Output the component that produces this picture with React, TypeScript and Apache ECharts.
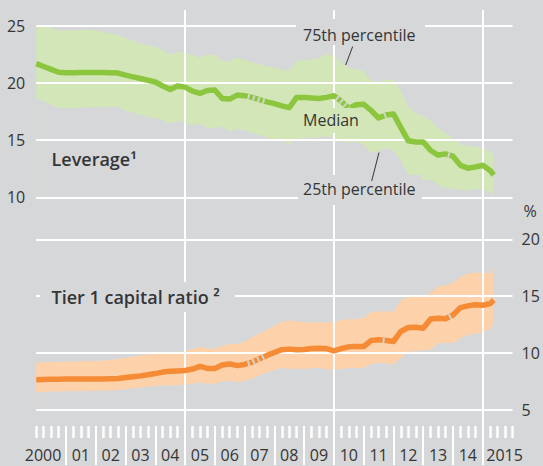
import React, { useEffect, useRef } from 'react';
import * as echarts from 'echarts';

// ---- data (quarterly observations, last one is the latest reading) ----
const levMedian = [21.7, 21.45, 21.2, 20.95, 20.9, 20.9, 20.92, 20.93, 20.93, 20.92, 20.9, 20.88, 20.7, 20.55, 20.4, 20.25, 20.1, 19.75, 19.45, 19.75, 19.65, 19.3, 19.1, 19.35, 19.4, 18.65, 18.6, 18.95, 18.9, 18.75, 18.55, 18.35, 18.2, 18.0, 17.85, 18.75, 18.75, 18.7, 18.65, 18.75, 18.9, 18.4, 17.8, 18.1, 18.15, 17.6, 16.95, 17.2, 17.3, 16.1, 14.95, 14.85, 14.85, 14.1, 13.7, 13.8, 13.6, 12.8, 12.55, 12.65, 12.8, 12.35, 11.95];
const levP75 = [25.4, 25.1, 24.85, 24.6, 24.6, 24.62, 24.65, 24.68, 24.6, 24.45, 24.35, 24.2, 23.95, 23.7, 23.5, 23.3, 23.2, 22.85, 22.5, 22.75, 22.7, 22.45, 22.2, 22.5, 22.45, 21.95, 21.9, 22.25, 22.05, 21.85, 21.65, 21.5, 21.35, 21.2, 21.05, 21.95, 22.0, 22.05, 22.2, 22.55, 22.4, 21.8, 21.35, 21.2, 21.1, 20.2, 20.1, 20.3, 20.3, 19.3, 17.9, 17.4, 17.1, 16.7, 16.1, 15.6, 15.2, 14.6, 14.5, 14.4, 14.3, 14.0, 13.7];
const levP25 = [18.65, 18.4, 18.1, 17.85, 17.8, 17.82, 17.85, 17.88, 17.9, 17.9, 17.9, 17.9, 17.6, 17.4, 17.2, 17.05, 16.95, 16.75, 16.45, 16.7, 16.5, 16.3, 16.45, 16.1, 16.05, 16.2, 15.75, 16.0, 15.85, 15.65, 15.45, 15.25, 15.05, 14.9, 14.7, 15.1, 15.2, 15.2, 15.25, 15.35, 15.2, 14.9, 14.8, 14.85, 14.6, 13.9, 14.05, 14.3, 14.1, 13.2, 12.0, 11.6, 11.5, 11.55, 11.1, 10.8, 10.75, 10.65, 10.6, 10.7, 10.75, 10.4, 10.2];

const t1Median = [7.66, 7.68, 7.7, 7.71, 7.72, 7.72, 7.72, 7.72, 7.72, 7.72, 7.74, 7.76, 7.85, 7.93, 8.0, 8.1, 8.2, 8.33, 8.4, 8.43, 8.47, 8.6, 8.83, 8.65, 8.65, 8.95, 9.05, 8.9, 9.0, 9.2, 9.5, 9.8, 10.05, 10.3, 10.35, 10.3, 10.32, 10.4, 10.43, 10.4, 10.2, 10.4, 10.55, 10.57, 10.58, 11.1, 11.17, 11.1, 11.02, 11.9, 12.25, 12.28, 12.19, 13.0, 13.07, 13.02, 13.35, 14.0, 14.15, 14.24, 14.2, 14.35, 14.67];
const t1P75 = [9.18, 9.2, 9.22, 9.24, 9.25, 9.27, 9.28, 9.3, 9.32, 9.33, 9.4, 9.48, 9.58, 9.68, 9.78, 9.88, 9.95, 10.02, 10.08, 10.12, 10.14, 10.35, 10.53, 10.4, 10.38, 10.65, 10.8, 10.8, 11.0, 11.4, 11.75, 12.05, 12.4, 12.75, 12.86, 12.8, 12.68, 12.7, 12.7, 12.68, 12.68, 12.9, 12.95, 13.0, 13.1, 13.6, 13.65, 13.65, 13.65, 14.6, 14.95, 15.0, 15.05, 15.3, 15.88, 15.95, 16.15, 16.7, 17.0, 17.05, 17.05, 17.0, 17.54];
const t1P25 = [6.58, 6.6, 6.62, 6.63, 6.65, 6.66, 6.67, 6.68, 6.7, 6.71, 6.72, 6.75, 6.82, 6.9, 6.98, 7.05, 7.1, 7.15, 7.18, 7.2, 7.22, 7.32, 7.42, 7.32, 7.3, 7.5, 7.6, 7.45, 7.55, 7.75, 8.05, 8.3, 8.5, 8.68, 8.65, 8.6, 8.62, 8.66, 8.68, 8.58, 8.54, 8.6, 8.68, 8.68, 8.68, 9.05, 9.12, 9.12, 8.97, 9.6, 10.15, 10.2, 10.25, 10.3, 10.88, 10.88, 10.88, 11.3, 11.6, 11.7, 11.85, 12.1, 12.77];

const firstQuarter = 2000;
const lastObs = 2015.37;
const dates = levMedian.map((_, i) => Math.min(firstQuarter + i * 0.25, lastObs));

const yearLabels = ['2000', '01', '02', '03', '04', '05', '06', '07', '08', '09', '10', '11', '12', '13', '14', '2015'];
const highlightYears = [2005, 2010, 2015];

// series breaks: dashed stretches and single break marks
const levBreaks = [[2007.0, 2007.75], [2010.0, 2010.5]];
const levMarks = [2011.72, 2013.86];
const t1Breaks = [[2007.0, 2007.75]];
const t1Marks = [2011.67, 2013.9];

const leverageAxis = { min: 10, max: 25, interval: 5 };
const tier1Axis = { min: 5, max: 20, interval: 5 };

// ---- styles ----
const FONT = "'Open Sans', 'Noto Sans', sans-serif";
const BG = '#d6d7d9';
const TXT = '#353535';
const GREEN = '#8cc63f';
const GREEN_BAND = '#d3e6b8';
const ORANGE = '#f58b34';
const ORANGE_BAND = '#fdd1aa';
const BREAK_GREY = '#d2d4d0';

const X0 = 36.2;
const XW = 476.3;

function pairs(vals: number[]) {
  return dates.map((t, i) => [t, vals[i]]);
}

function bandSeries(g: number, lower: number[], upper: number[], color: string) {
  return [
    {
      type: 'line', xAxisIndex: g, yAxisIndex: g, data: pairs(upper), symbol: 'none', silent: true,
      lineStyle: { width: 0, opacity: 0 }, areaStyle: { color, opacity: 1, origin: 'start' }, z: 1,
    },
    {
      type: 'line', xAxisIndex: g, yAxisIndex: g, data: pairs(lower), symbol: 'none', silent: true,
      lineStyle: { width: 0, opacity: 0 }, areaStyle: { color: BG, opacity: 1, origin: 'start' }, z: 1.5,
    },
  ];
}

function medianSeries(g: number, vals: number[], color: string) {
  return {
    type: 'line', xAxisIndex: g, yAxisIndex: g, data: pairs(vals), symbol: 'none', silent: true,
    lineStyle: { width: 5.5, color, join: 'round' }, z: 4,
  };
}

function breakSeries(g: number, vals: number[], ranges: number[][]) {
  return ranges.map(([a, b]) => ({
    type: 'line', xAxisIndex: g, yAxisIndex: g, symbol: 'none', silent: true,
    data: pairs(vals).filter((p) => p[0] >= a - 1e-9 && p[0] <= b + 1e-9),
    lineStyle: { width: 5.5, color: BREAK_GREY, type: [2, 3.2], dashOffset: 2 }, z: 5,
  }));
}

export default function App() {
  const ref = useRef<HTMLDivElement>(null);

  useEffect(() => {
    const chart = echarts.init(ref.current!, null, { renderer: 'svg' });

    const txt = (text: string, x: number, y: number, extra: any = {}) => ({
      type: 'text', z: 100,
      style: {
        text, x, y, fill: TXT, font: `${extra.weight || 'normal'} ${extra.size || 16}px ${FONT}`,
        fontSize: extra.size || 16, fontFamily: FONT, fontWeight: extra.weight || 'normal',
        align: extra.align || 'left', verticalAlign: 'middle',
        textAlign: extra.align || 'left', textVerticalAlign: 'middle',
      },
    });
    const box = (x: number, y: number, w: number, h: number, fill: string) => ({
      type: 'rect', z: 90, shape: { x, y, width: w, height: h }, style: { fill },
    });
    const leader = (x1: number, y1: number, x2: number, y2: number) => ({
      type: 'line', z: 95, shape: { x1, y1, x2, y2 }, style: { stroke: TXT, lineWidth: 1 },
    });

    const quarterTicks: number[] = [];
    for (let q = 0; q <= 64; q++) {
      const v = firstQuarter + q * 0.25;
      if (q % 4 !== 0 || q === 0 || q === 64) quarterTicks.push(v);
    }
    const yearTicks = yearLabels.map((_, i) => firstQuarter + i).filter((v) => v > firstQuarter);
    const labelPos = yearLabels.map((_, i) => firstQuarter + i + 0.5);

    const baseSeries: any[] = [
      ...bandSeries(0, levP25, levP75, GREEN_BAND),
      ...bandSeries(1, t1P25, t1P75, ORANGE_BAND),
      {
        type: 'line', xAxisIndex: 2, yAxisIndex: 2, data: [[2000, 0]], symbol: 'none', silent: true,
        lineStyle: { opacity: 0 },
        markLine: {
          silent: true, symbol: 'none', z: 3, animation: false,
          label: { show: false },
          lineStyle: { color: '#ffffff', width: 2, type: 'solid' },
          data: highlightYears.map((y) => ({ xAxis: y })),
        },
      },
      medianSeries(0, levMedian, GREEN),
      medianSeries(1, t1Median, ORANGE),
      ...breakSeries(0, levMedian, levBreaks),
      ...breakSeries(1, t1Median, t1Breaks),
    ];

    const xHidden = (g: number) => ({
      type: 'value', gridIndex: g, min: 2000, max: 2016, show: false,
    });

    const option: any = {
      animation: false,
      backgroundColor: BG,
      grid: [
        { left: X0, width: XW, top: 26, height: 171.3 },
        { left: X0, width: XW, top: 239.3, height: 170.7 },
        { left: X0, width: XW, top: 10, height: 416 },
      ],
      xAxis: [
        xHidden(0),
        xHidden(1),
        {
          type: 'value', gridIndex: 2, min: 2000, max: 2016, position: 'bottom', offset: 0,
          axisLine: { show: false }, splitLine: { show: false },
          axisTick: { show: true, customValues: quarterTicks, length: 12, lineStyle: { color: '#ffffff', width: 2.5 } },
          axisLabel: {
            show: true, customValues: labelPos, margin: 21, color: TXT, fontSize: 16, fontFamily: FONT,
            formatter: (v: number) => {
              const i = Math.round(v - 0.5 - firstQuarter);
              const s = yearLabels[i];
              if (i === 0) return `{l|${s}}`;
              if (i === yearLabels.length - 1) return `{r|${s}}`;
              return s;
            },
            rich: {
              l: { padding: [0, 16, 0, 0], color: TXT, fontSize: 16, fontFamily: FONT },
              r: { padding: [0, 0, 0, 14], color: TXT, fontSize: 16, fontFamily: FONT },
            },
          },
        },
        {
          type: 'value', gridIndex: 2, min: 2000, max: 2016, position: 'bottom', offset: 0,
          axisLine: { show: false }, splitLine: { show: false }, axisLabel: { show: false },
          axisTick: { show: true, customValues: yearTicks, length: 39, lineStyle: { color: '#ffffff', width: 2 } },
        },
      ],
      yAxis: [
        {
          type: 'value', gridIndex: 0, position: 'left', ...leverageAxis, z: 2,
          axisLine: { show: false }, axisTick: { show: false },
          splitLine: { show: true, lineStyle: { color: '#ffffff', width: 2 } },
          axisLabel: { margin: 11, color: TXT, fontSize: 16, fontFamily: FONT },
        },
        {
          type: 'value', gridIndex: 1, position: 'right', ...tier1Axis, z: 2,
          axisLine: { show: false }, axisTick: { show: false },
          splitLine: { show: true, lineStyle: { color: '#ffffff', width: 2 } },
          axisLabel: { margin: 9, color: TXT, fontSize: 16, fontFamily: FONT },
        },
        { type: 'value', gridIndex: 2, min: 0, max: 1, show: false },
      ],
      series: baseSeries,
      graphic: {
        elements: [
          txt('Leverage\u00b9', 51.5, 159, { size: 18, weight: 600 }),
          box(40, 282, 195, 30, BG),
          txt('Tier 1 capital ratio \u00b2', 51.5, 297, { size: 18, weight: 600 }),
          box(296, 19, 129, 26, BG),
          txt('75th percentile', 303, 35),
          leader(345.7, 65, 352.7, 46.5),
          box(298, 175, 124, 30, BG),
          txt('25th percentile', 303, 189),
          leader(371.7, 181, 379, 152.5),
          box(300, 108, 62, 25, GREEN_BAND),
          txt('Median', 303, 120),
          txt('%', 530, 211, { align: 'center' }),
        ],
      },
    };

    chart.setOption(option);

    // single break marks: one stripe placed along the segment containing each mark
    const greenIdx = baseSeries.findIndex((s) => s.lineStyle && s.lineStyle.color === GREEN);
    const orangeIdx = baseSeries.findIndex((s) => s.lineStyle && s.lineStyle.color === ORANGE);
    const markSeries = (g: number, seriesIndex: number, vals: number[], marks: number[]) =>
      marks.map((t) => {
        let i = 0;
        while (i < dates.length - 2 && dates[i + 1] < t) i++;
        const p0 = chart.convertToPixel({ seriesIndex }, [dates[i], vals[i]]) as number[];
        const p1 = chart.convertToPixel({ seriesIndex }, [dates[i + 1], vals[i + 1]]) as number[];
        const len = Math.hypot(p1[0] - p0[0], p1[1] - p0[1]);
        const s = Math.max(0.01, (len * (t - dates[i])) / (dates[i + 1] - dates[i]) - 1);
        return {
          type: 'line', xAxisIndex: g, yAxisIndex: g, symbol: 'none', silent: true,
          data: [[dates[i], vals[i]], [dates[i + 1], vals[i + 1]]],
          lineStyle: { width: 5.5, color: BREAK_GREY, type: [0.01, s, 2, 1000] }, z: 5,
        };
      });

    chart.setOption({
      series: [
        ...baseSeries,
        ...markSeries(0, greenIdx, levMedian, levMarks),
        ...markSeries(1, orangeIdx, t1Median, t1Marks),
      ],
    });

    return () => chart.dispose();
  }, []);

  return <div ref={ref} style={{ position: 'absolute', left: 0, top: 0, width: 543, height: 466 }} />;
}
